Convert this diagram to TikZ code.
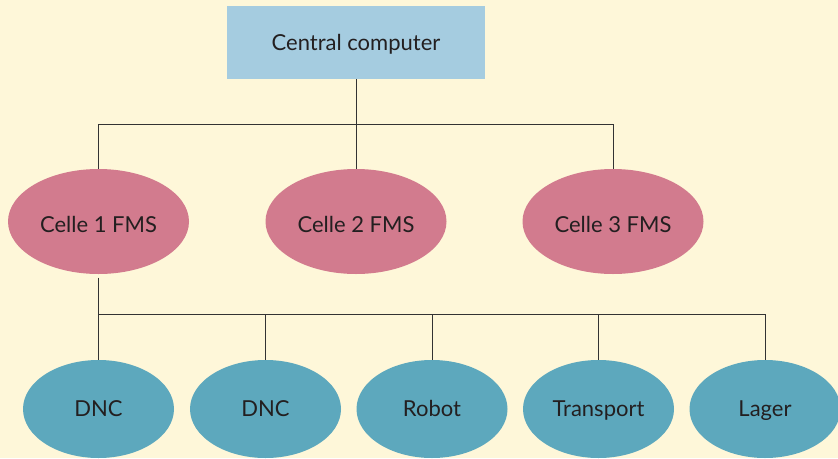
\documentclass[tikz,border=0pt]{standalone}
\usepackage{fontspec}
\setmainfont{Lato}
\usetikzlibrary{shapes.geometric}
\definecolor{bgc}{HTML}{FEF7D9}
\definecolor{boxc}{HTML}{A5CCE0}
\definecolor{cellc}{HTML}{D27B8E}
\definecolor{unitc}{HTML}{5DA8BD}
\definecolor{txtc}{HTML}{231F20}
\definecolor{linec}{HTML}{333333}
\tikzset{
  lbl/.style={text=txtc, font=\fontsize{22}{26}\selectfont, inner sep=0pt, text height=15.8pt, text depth=0pt},
  topbox/.style={lbl, rectangle, fill=boxc, minimum width=258pt, minimum height=73pt},
  cellnode/.style={lbl, ellipse, fill=cellc, minimum width=181pt, minimum height=105pt, text height=21pt},
  unitnode/.style={lbl, ellipse, fill=unitc, minimum width=151pt, minimum height=98pt},
  conn/.style={draw=linec, line width=1pt}
}
\begin{document}
\begin{tikzpicture}[x=1pt,y=-1pt]
\fill[bgc] (0,0) rectangle (838,458);
\useasboundingbox (0,0) rectangle (838,458);
\begin{scope}
\clip (0,0) rectangle (838,458);
\node[topbox] (cc) at (356,42.5) {Central computer};
\node[cellnode] (c1) at (98.5,221.5) {Celle 1 FMS};
\node[cellnode] (c2) at (356,221.5) {Celle 2 FMS};
\node[cellnode] (c3) at (613,221.5) {Celle 3 FMS};
\node[unitnode] (d1) at (98.5,409) {DNC};
\node[unitnode] (d2) at (265.5,409) {DNC};
\node[unitnode] (d3) at (432,409) {Robot};
\node[unitnode] (d4) at (598.5,409) {Transport};
\node[unitnode] (d5) at (765,409) {Lager};
\coordinate (j1) at (356,124.5);
\coordinate (j2) at (98.5,314.7);
\coordinate (c1b) at (98.5,277.5);
\draw[conn] (cc.south) -- (j1);
\draw[conn] (c1.north) |- (j1) -| (c3.north);
\draw[conn] (j1) -- (c2.north);
\draw[conn] (c1b) -- (j2);
\draw[conn] (d1.north) |- (j2) -| (d5.north);
\draw[conn] (d2.north) -- (d2.north |- j2);
\draw[conn] (d3.north) -- (d3.north |- j2);
\draw[conn] (d4.north) -- (d4.north |- j2);
\end{scope}
\end{tikzpicture}
\end{document}
